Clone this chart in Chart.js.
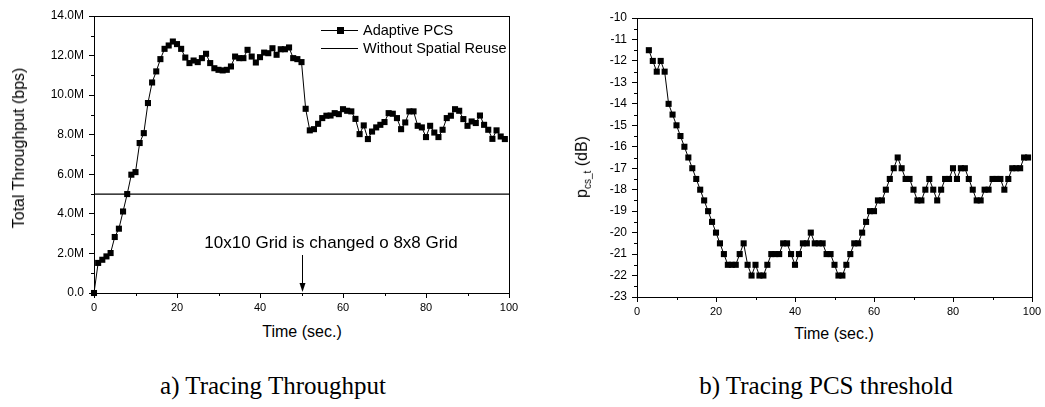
<!DOCTYPE html>
<html>
<head>
<meta charset="utf-8">
<script src="https://cdn.jsdelivr.net/npm/chart.js@4.4.1/dist/chart.umd.min.js"></script>
<style>
  body { margin: 0; width: 1045px; height: 407px; background: #fff; position: relative; overflow: hidden;
         font-family: "Liberation Sans", Arial, sans-serif; color: #000; }
  canvas { position: absolute; top: 0; }
  #thr { left: 0; }
  #pcs { left: 525px; }
  .lbl { position: absolute; white-space: nowrap; font-size: 16px; transform: translate(-50%, -50%); }
  .rot { transform: translate(-50%, -50%) rotate(-90deg); }
  .cap { font-family: "Liberation Serif", "Times New Roman", serif; font-size: 25px; }
  sub { font-size: 10px; }
</style>
</head>
<body>
<canvas id="thr" width="525" height="312"></canvas>
<canvas id="pcs" width="520" height="315"></canvas>

<div class="lbl rot" style="left:19px; top:148px;">Total Throughput (bps)</div>
<div class="lbl" style="left:302px; top:332px;">Time (sec.)</div>
<div class="lbl rot" style="left:583px; top:167px;">p<sub>cs_t</sub> (dB)</div>
<div class="lbl" style="left:834px; top:334px;">Time (sec.)</div>
<div class="lbl cap" style="left:273px; top:386px;">a) Tracing Throughput</div>
<div class="lbl cap" style="left:826px; top:386px;">b) Tracing PCS threshold</div>

<script>
// --- data ---
// left: throughput (Mbps) sampled every second, t = 0..99
const thrTime = Array.from({ length: 100 }, (_, i) => i);
const thrAdaptive = [
  0, 1.52, 1.68, 1.85, 2.02, 2.83, 3.25, 4.12, 5.0, 5.98,
  6.11, 7.58, 8.08, 9.6, 10.64, 11.2, 11.82, 12.34, 12.51, 12.71,
  12.58, 12.34, 11.9, 11.62, 11.75, 11.67, 11.87, 12.09, 11.62, 11.36,
  11.28, 11.25, 11.28, 11.45, 11.95, 11.87, 11.87, 12.29, 11.95, 11.65,
  11.92, 12.15, 12.12, 12.37, 12.04, 12.32, 12.32, 12.41, 11.87, 11.82,
  11.67, 9.31, 8.22, 8.28, 8.55, 8.84, 8.96, 8.97, 9.09, 9.04,
  9.29, 9.21, 9.18, 8.8, 8.03, 8.47, 7.78, 8.16, 8.37, 8.5,
  8.64, 9.09, 9.06, 8.84, 8.28, 8.62, 9.18, 9.18, 8.45, 8.37,
  7.88, 8.45, 8.11, 7.88, 8.25, 8.84, 8.96, 9.29, 9.21, 8.79,
  8.45, 8.67, 8.59, 8.97, 8.5, 8.25, 7.79, 8.22, 7.91, 7.78
];
const noReuseTime = [0, 100];
const noReuse = [5.0, 5.0];

// right: PCS threshold (dB), t = 3..99
const pcsTime = Array.from({ length: 97 }, (_, i) => i + 3);
const pcsThreshold = [
  -11.5, -12, -12.5, -12, -12.5, -14, -14.5, -15, -15.5, -16,
  -16.5, -17, -17.5, -18, -18.5, -19, -19.5, -20, -20.5, -21,
  -21.5, -21.5, -21.5, -21, -20.5, -21.5, -22, -21.5, -22, -22,
  -21.5, -21, -21, -21, -20.5, -20.5, -21, -21.5, -21, -20.5,
  -20.5, -20, -20.5, -20.5, -20.5, -21, -21, -21.5, -22, -22,
  -21.5, -21, -20.5, -20.5, -20, -19.5, -19, -19, -18.5, -18.5,
  -18, -17.5, -17, -16.5, -17, -17.5, -17.5, -18, -18.5, -18.5,
  -18, -17.5, -18, -18.5, -18, -17.5, -17.5, -17, -17.5, -17,
  -17, -17.5, -18, -18.5, -18.5, -18, -18, -17.5, -17.5, -17.5,
  -18, -17.5, -17, -17, -17, -16.5, -16.5
];

const timeTicks = [0, 20, 40, 60, 80, 100];
const timeMinor = [10, 30, 50, 70, 90];
const thrMinor = [1, 3, 5, 7, 9, 11, 13].map(v => v * 1e6);
const pcsMinor = Array.from({ length: 13 }, (_, i) => -22.5 + i);

const FONT = '"Liberation Sans", Arial, sans-serif';

// frame on all four sides + small outward minor ticks
const frame = {
  id: 'frame',
  afterDraw(chart, args, opts) {
    const { ctx, chartArea: a, scales } = chart;
    ctx.save();
    ctx.strokeStyle = '#000';
    ctx.lineWidth = 1;
    ctx.strokeRect(Math.round(a.left) + 0.5, Math.round(a.top) + 0.5,
                   Math.round(a.right - a.left), Math.round(a.bottom - a.top));
    ctx.beginPath();
    (opts.xMinor || []).forEach(v => {
      const px = Math.round(scales.x.getPixelForValue(v)) + 0.5;
      ctx.moveTo(px, a.bottom); ctx.lineTo(px, a.bottom + 3);
    });
    (opts.yMinor || []).forEach(v => {
      const py = Math.round(scales.y.getPixelForValue(v)) + 0.5;
      ctx.moveTo(a.left - 3, py); ctx.lineTo(a.left, py);
    });
    ctx.stroke();
    ctx.restore();
  }
};

// legend and the "grid changed" note on the throughput chart
const notes = {
  id: 'notes',
  afterDraw(chart) {
    if (chart.canvas.id !== 'thr') return;
    const { ctx, chartArea: a, scales } = chart;
    ctx.save();
    ctx.strokeStyle = '#000';
    ctx.fillStyle = '#000';
    ctx.lineWidth = 1;
    // legend
    ctx.beginPath();
    ctx.moveTo(321, 30.5); ctx.lineTo(358, 30.5);
    ctx.moveTo(321, 48.5); ctx.lineTo(358, 48.5);
    ctx.stroke();
    ctx.fillRect(337, 27, 7, 7);
    ctx.font = '14.5px ' + FONT;
    ctx.textBaseline = 'middle';
    ctx.fillText('Adaptive PCS', 363, 31);
    ctx.fillText('Without Spatial Reuse', 363, 49);
    // annotation
    ctx.font = '17px ' + FONT;
    ctx.textAlign = 'center';
    ctx.fillText('10x10 Grid is changed o 8x8 Grid', 331, 243);
    const ax = Math.round(scales.x.getPixelForValue(50)) + 0.5;
    ctx.beginPath();
    ctx.moveTo(ax, 255); ctx.lineTo(ax, a.bottom - 8);
    ctx.stroke();
    ctx.beginPath();
    ctx.moveTo(ax - 3, a.bottom - 10);
    ctx.lineTo(ax + 3, a.bottom - 10);
    ctx.lineTo(ax, a.bottom - 1);
    ctx.closePath();
    ctx.fill();
    ctx.restore();
  }
};

function axisX(height) {
  return {
    type: 'linear', min: 0, max: 100,
    afterFit: s => { s.height = height; },
    afterBuildTicks: s => { s.ticks = timeTicks.map(v => ({ value: v })); },
    grid: { drawOnChartArea: false, drawTicks: true, tickLength: 5, color: '#000' },
    border: { color: '#000', width: 1 },
    ticks: { color: '#000', font: { family: FONT, size: 11 }, padding: 3, maxRotation: 0 }
  };
}

function axisY(width, min, max, step, fmt) {
  return {
    min, max,
    afterFit: s => { s.width = width; },
    grid: { drawOnChartArea: false, drawTicks: true, tickLength: 5, color: '#000' },
    border: { color: '#000', width: 1 },
    ticks: { stepSize: step, color: '#000', font: { family: FONT, size: 12 }, padding: 5, callback: fmt }
  };
}

const common = {
  responsive: false,
  animation: false,
  events: [],
  plugins: { legend: { display: false }, tooltip: { enabled: false } }
};

new Chart(document.getElementById('thr'), {
  type: 'line',
  data: {
    datasets: [{
      label: 'Adaptive PCS',
      data: thrTime.map((t, i) => ({ x: t, y: thrAdaptive[i] * 1e6 })),
      borderColor: '#000', borderWidth: 1, backgroundColor: '#000',
      pointStyle: 'rect', pointRadius: 4.3, pointBorderWidth: 0,
      tension: 0, clip: false
    }, {
      label: 'Without Spatial Reuse',
      data: noReuseTime.map((t, i) => ({ x: t, y: noReuse[i] * 1e6 })),
      borderColor: '#000', borderWidth: 1.3, pointRadius: 0
    }]
  },
  options: {
    ...common,
    layout: { padding: { top: 16, right: 16, left: 0, bottom: 0 } },
    scales: {
      x: axisX(19),
      y: axisY(94, 0, 14e6, 2e6, v => v === 0 ? '0.0' : (v / 1e6).toFixed(1) + 'M')
    },
    plugins: { ...common.plugins, frame: { xMinor: timeMinor, yMinor: thrMinor } }
  },
  plugins: [frame, notes]
});

new Chart(document.getElementById('pcs'), {
  type: 'line',
  data: {
    datasets: [{
      label: 'PCS threshold',
      data: pcsTime.map((t, i) => ({ x: t, y: pcsThreshold[i] })),
      borderColor: '#000', borderWidth: 1, backgroundColor: '#000',
      pointStyle: 'rect', pointRadius: 4.3, pointBorderWidth: 0,
      tension: 0, clip: false
    }]
  },
  options: {
    ...common,
    layout: { padding: { top: 18, right: 13, left: 0, bottom: 0 } },
    scales: {
      x: axisX(18),
      y: axisY(112, -23, -10, 1, v => String(v))
    },
    plugins: { ...common.plugins, frame: { xMinor: timeMinor, yMinor: pcsMinor } }
  },
  plugins: [frame, notes]
});
</script>
</body>
</html>
